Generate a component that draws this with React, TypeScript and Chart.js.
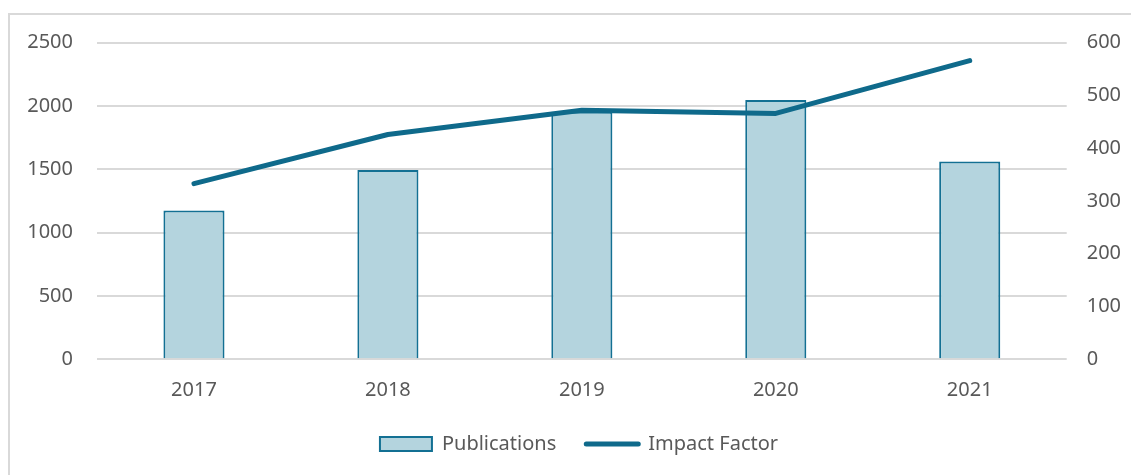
import React, { useEffect, useRef } from "react";
import { Chart, registerables } from "chart.js";

Chart.register(...registerables);

const years = ["2017", "2018", "2019", "2020", "2021"];
const publications = [1175, 1495, 1955, 2048, 1562];
const impactFactor = [333, 426, 472, 466, 566];

const barFill = "#b4d4de";
const barBorder = "#137093";
const lineColor = "#0f6a8b";
const textColor = "#595959";
const gridColor = "#d9d9d9";
const fontFamily = "'Noto Sans', 'Open Sans', sans-serif";

export default function App() {
  const ref = useRef<HTMLCanvasElement | null>(null);

  useEffect(() => {
    if (!ref.current) return;
    const chart = new Chart(ref.current, {
      type: "bar",
      data: {
        labels: years,
        datasets: [
          {
            type: "bar",
            label: "Publications",
            data: publications,
            backgroundColor: barFill,
            borderColor: barBorder,
            borderWidth: 2,
            barPercentage: 0.315,
            categoryPercentage: 1,
            yAxisID: "y",
            order: 1,
          },
          {
            type: "line",
            label: "Impact Factor",
            data: impactFactor,
            borderColor: lineColor,
            backgroundColor: lineColor,
            borderWidth: 5,
            borderCapStyle: "round",
            borderJoinStyle: "round",
            pointRadius: 0,
            pointHoverRadius: 0,
            tension: 0,
            yAxisID: "y1",
            order: 0,
          },
        ],
      },
      options: {
        responsive: false,
        animation: false,
        layout: { padding: { left: 17, right: 0, top: 27.7, bottom: 11 } },
        font: { family: fontFamily, size: 20 },
        plugins: {
          tooltip: { enabled: false },
          legend: {
            position: "bottom",
            labels: {
              color: textColor,
              font: { family: fontFamily, size: 20 },
              usePointStyle: true,
              pointStyleWidth: 52,
              boxHeight: 14,
              padding: 30,
              generateLabels: (c: any) =>
                c.data.datasets.map((ds: any, i: number) => ({
                  text: ds.label,
                  fillStyle: ds.type === "line" ? ds.borderColor : ds.backgroundColor,
                  strokeStyle: ds.borderColor,
                  lineWidth: ds.type === "line" ? 5 : 2,
                  lineCap: "round",
                  pointStyle: ds.type === "line" ? "line" : "rect",
                  fontColor: textColor,
                  hidden: false,
                  datasetIndex: i,
                })),
            },
          },
        },
        scales: {
          x: {
            offset: true,
            grid: { display: false, drawTicks: false },
            border: { display: false },
            ticks: { color: textColor, font: { family: fontFamily, size: 20 }, padding: 19 },
            afterFit: (s: any) => {
              s.height = 44.7;
            },
          },
          y: {
            position: "left",
            min: 0,
            max: 2500,
            ticks: {
              stepSize: 500,
              color: textColor,
              font: { family: fontFamily, size: 20 },
              padding: 0,
              callback: (v: any) => String(v),
            },
            grid: {
              color: gridColor,
              lineWidth: 2,
              drawTicks: true,
              tickLength: 24,
              tickColor: "rgba(0,0,0,0)",
            },
            border: { display: false },
            afterFit: (s: any) => {
              s.width = 70;
            },
          },
          y1: {
            position: "right",
            min: 0,
            max: 600,
            ticks: {
              stepSize: 100,
              color: textColor,
              font: { family: fontFamily, size: 20 },
              padding: 0,
              callback: (v: any) => String(v),
            },
            grid: {
              display: true,
              drawOnChartArea: false,
              color: "rgba(0,0,0,0)",
              drawTicks: true,
              tickLength: 20,
              tickColor: "rgba(0,0,0,0)",
            },
            border: { display: false },
            afterFit: (s: any) => {
              s.width = 64.3;
            },
          },
        },
      },
    });
    return () => chart.destroy();
  }, []);

  return (
    <div style={{ position: "fixed", inset: 0, overflow: "hidden", background: "#fff" }}>
      <div
        style={{
          position: "absolute",
          left: 8,
          top: 13,
          width: 1140,
          height: 480,
          border: `2px solid ${gridColor}`,
        }}
      >
        <canvas ref={ref} width={1121} height={460} style={{ display: "block", width: 1121, height: 460 }} />
      </div>
    </div>
  );
}
